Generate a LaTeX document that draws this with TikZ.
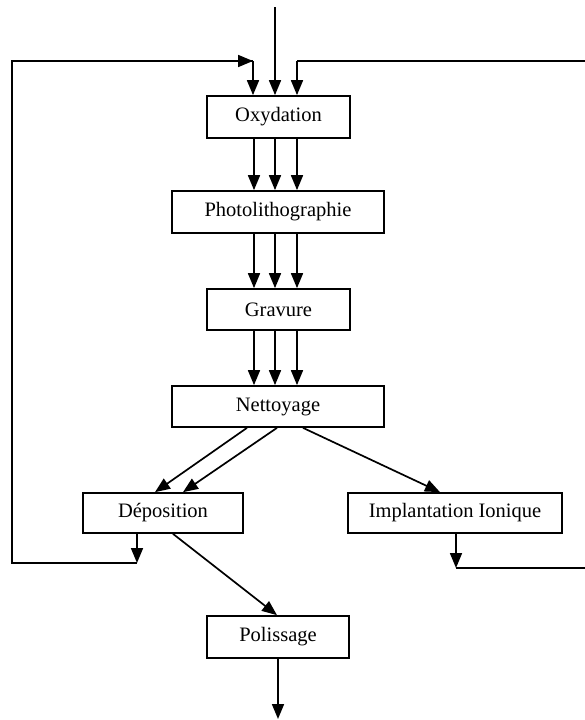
\documentclass[tikz,border=0pt]{standalone}
\usepackage{fontspec}
\setmainfont{Liberation Serif}
\usetikzlibrary{arrows.meta}
\begin{document}
\begin{tikzpicture}[x=1pt,y=-1pt,
  box/.style={draw, line width=1.7pt, inner sep=0pt, font=\fontsize{20.5}{24}\selectfont},
  link/.style={line width=1.7pt},
  arr/.style={line width=1.7pt, -{Triangle[length=15pt,width=12pt]}}]
\useasboundingbox (0,0) rectangle (585,720);
\node[box, minimum width=143pt, minimum height=42pt] (ox) at (278.5,117) {Oxydation};
\node[box, minimum width=212pt, minimum height=42pt] (ph) at (278,212) {Photolithographie};
\node[box, minimum width=143pt, minimum height=41pt] (gr) at (278.5,309.5) {Gravure};
\node[box, minimum width=212pt, minimum height=41pt] (ne) at (278,406.5) {Nettoyage};
\node[box, minimum width=160pt, minimum height=40pt] (de) at (163,513) {Déposition};
\node[box, minimum width=214pt, minimum height=40pt] (im) at (455,513) {Implantation Ionique};
\node[box, minimum width=142pt, minimum height=42pt] (po) at (278,637) {Polissage};
% input
\coordinate (in) at (275,7);
\draw[arr] (in) -- (ox.north -| in);
% triple arrows
\foreach \xx in {254,275,297}{
  \draw[arr] (ox.south -| \xx,0) -- (ph.north -| \xx,0);
  \draw[arr] (ph.south -| \xx,0) -- (gr.north -| \xx,0);
  \draw[arr] (gr.south -| \xx,0) -- (ne.north -| \xx,0);
}
% diagonals
\draw[arr] (ne.south -| 247,0) -- (de.north -| 155,0);
\draw[arr] (ne.south -| 277,0) -- (de.north -| 183,0);
\draw[arr] (ne.south -| 303,0) -- (im.north -| 440,0);
\draw[arr] (de.south -| 173,0) -- (po.north -| 277,0);
\coordinate (out) at (278,719);
\draw[arr] (po.south -| out) -- (out);
% left loop
\coordinate (dl) at (137,563);
\coordinate (ll) at (12,563);
\coordinate (lu) at (12,61);
\coordinate (lt) at (253,61);
\draw[arr] (de.south -| dl) -- (dl);
\draw[link] (dl) -- (ll) -- (lu) -- (lt);
\draw[arr] ([xshift=-15pt]lt) -- (lt);
\draw[arr] (lt) -- (ox.north -| lt);
% right loop
\coordinate (ir) at (456,568);
\coordinate (rr) at (585,568);
\coordinate (ru) at (585,61);
\coordinate (rt) at (297,61);
\draw[arr] (im.south -| ir) -- (ir);
\draw[link] (ir) -- (rr);
\draw[link] (ru) -- (rt);
\draw[arr] (rt) -- (ox.north -| rt);
\end{tikzpicture}
\end{document}
